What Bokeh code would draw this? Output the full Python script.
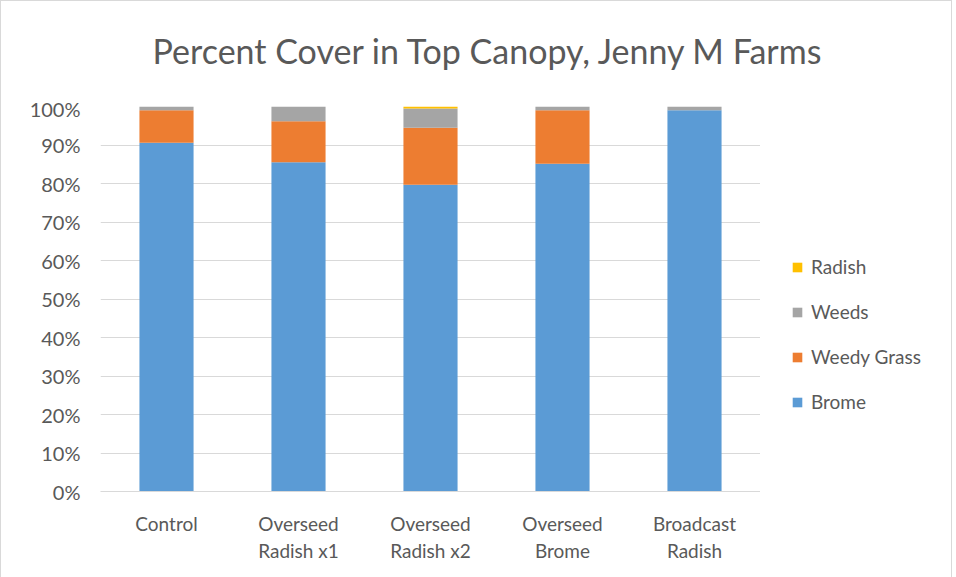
from bokeh.plotting import figure
from bokeh.layouts import row, column
from bokeh.models import ColumnDataSource, Legend, LegendItem, NumeralTickFormatter, FixedTicker, Range1d, Div
from bokeh.embed import file_html
from bokeh.resources import INLINE

title_text = "Percent Cover in Top Canopy, Jenny M Farms"
categories = ["Control", "Overseed\nRadish x1", "Overseed\nRadish x2", "Overseed\nBrome", "Broadcast\nRadish"]
brome = [0.906, 0.855, 0.797, 0.851, 0.990]
weedy_grass = [0.084, 0.107, 0.148, 0.139, 0.000]
weeds = [0.010, 0.038, 0.050, 0.010, 0.010]
radish = [0.000, 0.000, 0.005, 0.000, 0.000]
series = ["Brome", "Weedy Grass", "Weeds", "Radish"]
colors = ["#5B9BD5", "#ED7D31", "#A5A5A5", "#FFC000"]
y_ticks = [0, 0.1, 0.2, 0.3, 0.4, 0.5, 0.6, 0.7, 0.8, 0.9, 1.0]

source = ColumnDataSource(dict(cat=categories, Brome=brome, **{"Weedy Grass": weedy_grass}, Weeds=weeds, Radish=radish))

FONT = "Lato"
TXT = "#595959"

head = Div(text=title_text, width=940, height=85,
           styles={"font-family": "Lato", "font-size": "34px", "color": TXT,
                   "text-align": "center", "padding-left": "22px", "padding-top": "25px",
                   "box-sizing": "border-box", "line-height": "1.2"})

p = figure(x_range=categories, y_range=Range1d(0, 1.0), width=759, height=488,
           output_backend="svg", toolbar_location=None,
           min_border_left=99, min_border_right=0, min_border_top=10, min_border_bottom=93)

renderers = p.vbar_stack(series, x="cat", width=0.41, source=source, color=colors, line_color=None)

p.yaxis.ticker = FixedTicker(ticks=y_ticks)
p.yaxis.formatter = NumeralTickFormatter(format="0%")
p.yaxis.axis_line_color = None
p.yaxis.major_tick_line_color = None
p.yaxis.minor_tick_line_color = None
p.yaxis.major_label_text_font = FONT
p.yaxis.major_label_text_font_size = "20px"
p.yaxis.major_label_text_color = TXT
p.yaxis.major_label_standoff = 14

p.xaxis.axis_line_color = "#D9D9D9"
p.xaxis.major_tick_line_color = None
p.xaxis.minor_tick_line_color = None
p.xaxis.major_label_text_font = FONT
p.xaxis.major_label_text_font_size = "19px"
p.xaxis.major_label_text_color = TXT
p.xaxis.major_label_standoff = 14

p.xgrid.grid_line_color = None
p.ygrid.grid_line_color = "#D9D9D9"
p.ygrid.grid_line_width = 1
p.outline_line_color = None
p.x_range.range_padding = 0.0

# legend holder: same series as hidden renderers
q = figure(x_range=categories, y_range=Range1d(0, 1.0), width=181, height=488,
           output_backend="svg", toolbar_location=None,
           min_border_left=0, min_border_right=0, min_border_top=10, min_border_bottom=93)
q_renderers = q.vbar_stack(series, x="cat", width=0.41, source=source, color=colors, line_color=None)
for r in q_renderers:
    r.visible = False
q.axis.visible = False
q.grid.grid_line_color = None
q.outline_line_color = None

items = [LegendItem(label=s, renderers=[r]) for s, r in zip(series, q_renderers)][::-1]
legend = Legend(items=items, location=(31, 78), padding=0, margin=0, spacing=22,
                label_height=20, glyph_height=12, glyph_width=12, label_standoff=8,
                label_text_font=FONT, label_text_font_size="19px", label_text_color=TXT,
                inactive_fill_alpha=0,
                border_line_color=None, background_fill_alpha=0)
q.add_layout(legend)

layout = column(head, row(p, q, spacing=0), spacing=0)
layout.styles = {"border": "1px solid #D9D9D9"}

open("out.html", "w").write(file_html(layout, INLINE))
